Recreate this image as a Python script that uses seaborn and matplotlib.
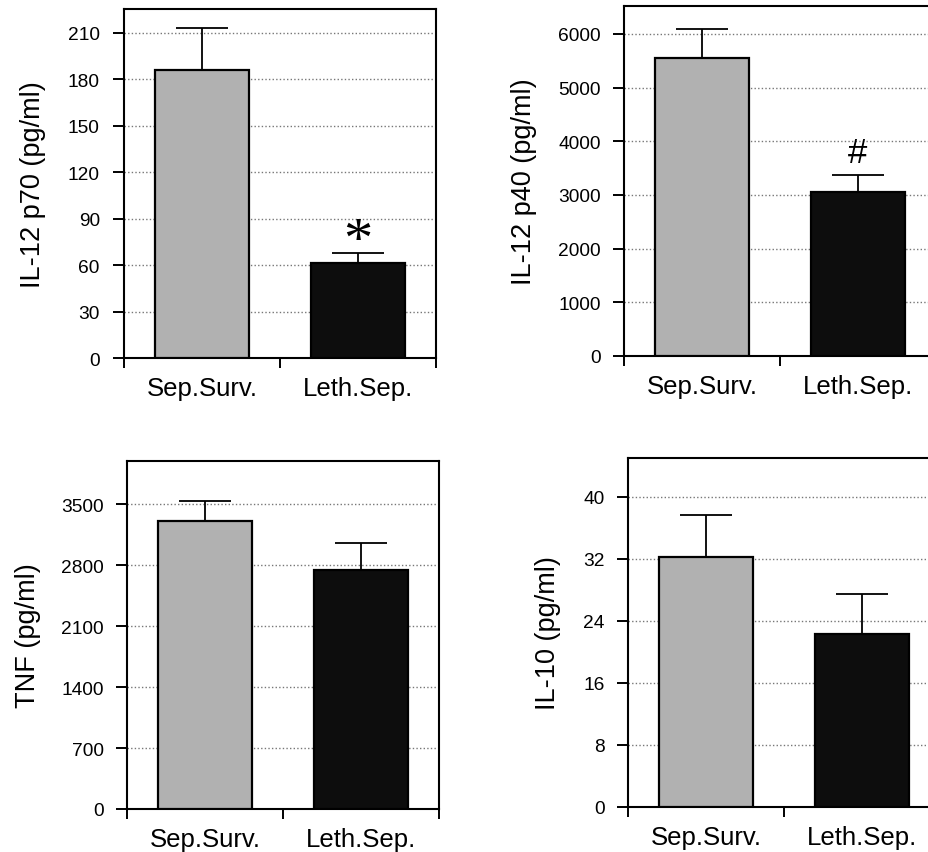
import matplotlib
matplotlib.use("Agg")
import matplotlib.pyplot as plt
import seaborn as sns
import numpy as np
import pandas as pd

sns.set_theme(style="white")
plt.rcParams['font.family'] = ['Liberation Sans', 'DejaVu Sans']
plt.rcParams['text.color'] = 'black'
plt.rcParams['xtick.color'] = 'black'
plt.rcParams['ytick.color'] = 'black'
plt.rcParams['axes.labelcolor'] = 'black'

categories = ["Sep.Surv.", "Leth.Sep."]

il12p70_mean = [186, 61.5]
il12p70_err = [27, 6.5]
il12p40_mean = [5550, 3060]
il12p40_err = [545, 310]
tnf_mean = [3310, 2750]
tnf_err = [225, 310]
il10_mean = [32.2, 22.3]
il10_err = [5.5, 5.1]

ylabels = ["IL-12 p70 (pg/ml)", "IL-12 p40 (pg/ml)", "TNF (pg/ml)", "IL-10 (pg/ml)"]
yticks_list = [list(range(0, 211, 30)), list(range(0, 6001, 1000)),
               list(range(0, 3501, 700)), list(range(0, 41, 8))]
ylims = [225.5, 6520, 3997, 45.0]
marks = ["*", "#", None, None]
mark_y = [75, 3800, None, None]

bar_colors = ["#b1b1b1", "#0d0d0d"]

W, H = 929, 853
fig = plt.figure(figsize=(W / 100, H / 100), dpi=100)
fig.patch.set_facecolor("white")

# pixel boxes: left, right, top, bottom
boxes = [(124, 436, 10, 359), (624, 936, 7, 357), (127, 439, 462, 810), (628, 940, 459, 808)]
label_x = [33, 524, 28, 548]
ytick_pad = [9.4, 8.6, 8.6, 9.0]

means = [il12p70_mean, il12p40_mean, tnf_mean, il10_mean]
errs = [il12p70_err, il12p40_err, tnf_err, il10_err]

for i in range(4):
    l, r, t, b = boxes[i]
    ax = fig.add_axes([l / W, (H - b) / H, (r - l) / W, (b - t) / H])
    df = pd.DataFrame({"group": categories, "value": means[i]})
    sns.barplot(data=df, x="group", y="value", hue="group", palette=bar_colors,
                width=0.6, edgecolor="black", linewidth=1.6, legend=False, ax=ax,
                zorder=3)
    ax.errorbar([0, 1], means[i], yerr=[[0, 0], errs[i]], fmt="none", ecolor="black",
                elinewidth=1.3, capsize=19, capthick=1.3, zorder=4)
    ax.set_xlim(-0.5, 1.5)
    ax.set_ylim(0, ylims[i])
    ax.set_yticks(yticks_list[i])
    ax.set_yticklabels([str(v) for v in yticks_list[i]], fontsize=13.8)
    ax.yaxis.grid(True, linestyle=(0, (1, 1.6)), color="#777777", linewidth=1.0, zorder=0)
    ax.xaxis.grid(False)
    ax.set_axisbelow(True)
    ax.tick_params(axis="y", direction="out", length=8, width=1.4, color="black",
                   labelcolor="black", pad=ytick_pad[i], left=True)
    ax.set_xticks([0, 1])
    ax.set_xticklabels(categories, fontsize=18.5)
    ax.tick_params(axis="x", which="major", length=0, pad=13, labelcolor="black")
    ax.set_xticks([-0.5, 0.5, 1.5], minor=True)
    ax.tick_params(axis="x", which="minor", direction="out", length=7, width=1.4,
                   color="black", bottom=True)
    for s in ax.spines.values():
        s.set_visible(True)
        s.set_color("black")
        s.set_linewidth(1.5)
    ax.set_xlabel("")
    ax.set_ylabel("")
    ax.text((label_x[i] - l) / (r - l), 0.5, ylabels[i], transform=ax.transAxes,
            rotation=90, ha="center", va="center", fontsize=19.5, color="black")
    if marks[i] == "*":
        ax.text(1, mark_y[i], "*", ha="center", va="center", fontsize=42,
                family=["Liberation Serif", "DejaVu Serif"], color="black", zorder=5)
    elif marks[i] == "#":
        ax.text(1, mark_y[i], "#", ha="center", va="center", fontsize=25,
                color="black", zorder=5)
    ax.set_facecolor("white")

fig.savefig("out.png", dpi=100, facecolor="white")
